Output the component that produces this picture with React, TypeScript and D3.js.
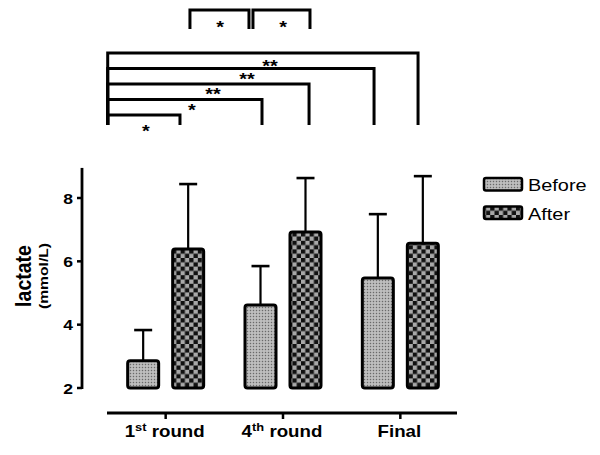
import React from 'react';
import * as d3 from 'd3';

// ---- data ----
const groups = ['1st round', '4th round', 'Final'];
const groupMain = ['1', '4', 'Final'];
const groupSup = ['st', 'th', ''];
const groupRest = [' round', ' round', ''];
const series = ['Before', 'After'];
const beforeMeans = [2.86, 4.62, 5.47];
const beforeUpper = [3.83, 5.85, 7.49];
const afterMeans = [6.39, 6.93, 6.57];
const afterUpper = [8.44, 8.63, 8.69];
const yTicks = [2, 4, 6, 8];

// significance annotations, x in category units (group i spans [i, i+1])
const topBrFrom = [0.707, 1.244];
const topBrTo = [1.21, 1.73];
const topBrLabel = ['*', '*'];
const topBrStarX = [0.963, 1.5];

const lowBrFrom = 0.006;
const lowBrTo = [0.622, 1.321, 1.722, 2.276, 2.651];
const lowBrLabel = ['*', '*', '**', '**', '**'];
const lowBrStarX = [0.332, 0.724, 0.903, 1.193, 1.389];
const lowBrStarLevel = [-0.84, 0.52, 1.55, 2.52, 3.35];

const FONT = '"Liberation Sans", Arial, sans-serif';
const SX = 1.17;

export default function App() {
  const W = 600, H = 455;
  const x = d3.scaleBand<string>().domain(groups).range([107, 459]).padding(0);
  const sub = d3.scaleBand<string>().domain(series).range([-38, 38]).paddingInner(0.311);
  const y = d3.scaleLinear().domain([2, 8]).range([388, 198]);
  const ann = d3.scaleLinear().domain([0, 3]).range([107, 459]);
  const lvl = d3.scaleLinear().domain([0, 4]).range([115, 53]);
  const topY = 10, topBottom = 29, lowBottom = 125;

  const bars: { g: number; s: string; v: number; u: number }[] = [];
  groups.forEach((g, i) => {
    bars.push({ g: i, s: 'Before', v: beforeMeans[i], u: beforeUpper[i] });
    bars.push({ g: i, s: 'After', v: afterMeans[i], u: afterUpper[i] });
  });
  const fillFor = (s: string) => (s === 'Before' ? 'url(#dots)' : 'url(#checks)');
  const bw = sub.bandwidth();
  const cx = (gi: number) => (x(groups[gi]) as number) + x.bandwidth() / 2;

  const stext = (tx: number, ty: number, content: React.ReactNode, props: any = {}, extra = '') => (
    <g transform={`translate(${tx},${ty}) scale(${SX},1)${extra}`}>
      <text x={0} y={0} fontFamily={FONT} {...props}>{content}</text>
    </g>
  );

  return (
    <svg width={W} height={H} style={{ position: 'absolute', left: 0, top: 0, background: '#fff' }}>
      <defs>
        <pattern id="dots" patternUnits="userSpaceOnUse" width={3} height={3}>
          <rect width={3} height={3} fill="#c2c2c2" />
          <rect x={0.8} y={0.8} width={1.4} height={1.4} fill="#6a6a6a" />
        </pattern>
        <pattern id="checks" patternUnits="userSpaceOnUse" width={8.6} height={8.6}>
          <rect width={8.6} height={8.6} fill="#a8a8a8" />
          <rect x={0} y={0} width={4.3} height={4.3} fill="#111" />
          <rect x={4.3} y={4.3} width={4.3} height={4.3} fill="#111" />
        </pattern>
      </defs>

      {/* bars */}
      {bars.map((b, i) => {
        const bx = cx(b.g) + (sub(b.s) as number);
        return (
          <g key={i}>
            <line x1={bx + bw / 2} x2={bx + bw / 2} y1={y(b.v)} y2={y(b.u)} stroke="#000" strokeWidth={2.2} />
            <line x1={bx + bw / 2 - 9} x2={bx + bw / 2 + 9} y1={y(b.u)} y2={y(b.u)} stroke="#000" strokeWidth={2.6} />
            <rect x={bx} y={y(b.v)} width={bw} height={y(2) - y(b.v)} fill={fillFor(b.s)} stroke="#000" strokeWidth={3} rx={2.5} />
          </g>
        );
      })}

      {/* y axis */}
      <line x1={82} x2={82} y1={y(8.95)} y2={y(2) + 1} stroke="#000" strokeWidth={2.8} />
      {yTicks.map((t) => (
        <g key={t}>
          <line x1={77} x2={82} y1={y(t)} y2={y(t)} stroke="#000" strokeWidth={2.5} />
          {stext(73, y(t) + 5.5, t, { fontSize: 15, fontWeight: 'bold', textAnchor: 'end' })}
        </g>
      ))}
      {stext(31, 276, 'lactate', { fontSize: 19.5, fontWeight: 'bold', textAnchor: 'middle' }, ' rotate(-90)')}
      {stext(47.5, 276, '(mmol/L)', { fontSize: 11.5, fontWeight: 'bold', textAnchor: 'middle', textLength: 66, lengthAdjust: 'spacingAndGlyphs' }, ' rotate(-90)')}

      {/* x axis */}
      <line x1={107} x2={457} y1={413} y2={413} stroke="#000" strokeWidth={2.8} />
      {groups.map((g, i) => (
        <g key={g}>
          <line x1={cx(i)} x2={cx(i)} y1={413} y2={419} stroke="#000" strokeWidth={2.5} />
          {stext(cx(i) - 1, 437, (
            <>
              <tspan>{groupMain[i]}</tspan>
              {groupSup[i] && <tspan fontSize={11} dy={-6}>{groupSup[i]}</tspan>}
              {groupRest[i] && <tspan dy={groupSup[i] ? 6 : 0}>{groupRest[i]}</tspan>}
            </>
          ), { fontSize: 16, fontWeight: 'bold', textAnchor: 'middle' })}
        </g>
      ))}

      {/* legend */}
      {series.map((s, i) => (
        <g key={s}>
          <rect x={484} y={178 + i * 28.5} width={38} height={12.5} rx={2} fill={fillFor(s)} stroke="#000" strokeWidth={2.5} />
          {stext(528, 191 + i * 28.5, s, { fontSize: 17, textAnchor: 'start' })}
        </g>
      ))}

      {/* top brackets */}
      {topBrFrom.map((f, i) => (
        <g key={'t' + i}>
          <path d={`M${ann(f)},${topBottom}V${topY}H${ann(topBrTo[i])}V${topBottom}`} fill="none" stroke="#000" strokeWidth={3} />
          {stext(ann(topBrStarX[i]), 24 + 9, topBrLabel[i], { fontSize: 17, fontWeight: 'bold', textAnchor: 'middle' })}
        </g>
      ))}

      {/* lower brackets */}
      {lowBrTo.map((t, i) => (
        <g key={'l' + i}>
          <path d={`M${ann(lowBrFrom)},${lowBottom}V${lvl(i)}H${ann(t)}V${lowBottom}`} fill="none" stroke="#000" strokeWidth={3} />
          {stext(ann(lowBrStarX[i]), lvl(lowBrStarLevel[i]) + 9, lowBrLabel[i], { fontSize: 17, fontWeight: 'bold', textAnchor: 'middle' })}
        </g>
      ))}
    </svg>
  );
}
